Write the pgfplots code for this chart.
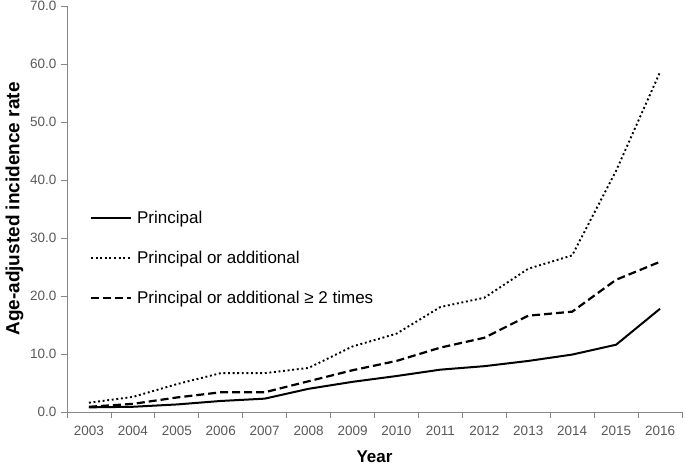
\documentclass[border=0pt]{standalone}
\usepackage{pgfplots}
\pgfplotsset{compat=1.18}
\usepackage{fontspec}
\setmainfont{Liberation Sans}
\definecolor{axgray}{HTML}{868686}
\definecolor{lblgray}{HTML}{595959}
\begin{document}
\begin{tikzpicture}
\begin{axis}[
  name=ax,
  scale only axis,
  width=615pt, height=406pt,
  xmin=-0.5, xmax=13.5,
  ymin=0, ymax=70,
  axis x line*=bottom, axis y line*=left,
  axis line style={axgray, line width=0.8pt, -},
  xtick={0,...,13},
  xticklabels={2003,2004,2005,2006,2007,2008,2009,2010,2011,2012,2013,2014,2015,2016},
  major x tick style={draw=none},
  minor xtick={-0.5,0.5,...,13.5},
  minor x tick style={axgray, line width=0.8pt},
  minor tick length=6pt,
  tick align=outside,
  ytick={0,10,...,70},
  major y tick style={axgray, line width=0.8pt},
  major tick length=6pt,
  yticklabel style={/pgf/number format/fixed, /pgf/number format/fixed zerofill, /pgf/number format/precision=1, xshift=-1pt},
  /pgf/number format/assume math mode=true,
  ticklabel style={font=\fontsize{13.5}{15}\selectfont, text=lblgray},
  xticklabel style={yshift=-5pt},
  xlabel={Year},
  ylabel={Age-adjusted incidence rate},
  xlabel style={font=\fontsize{17}{19}\selectfont\bfseries, yshift=-8pt},
  ylabel style={font=\fontsize{19}{21}\selectfont\bfseries, yshift=0pt},
  legend style={at={(0.037,0.50)}, anchor=north west, draw=none, fill=none,
    font=\fontsize{17}{19}\selectfont, row sep=22pt, inner sep=0pt,
    nodes={inner xsep=5pt}},
  legend cell align=left,
  legend image code/.code={\draw[#1] (0pt,0pt) -- (40pt,0pt);},
  clip=false,
]
\addplot[black, line width=2pt] coordinates {
(0,0.8) (1,0.9) (2,1.3) (3,1.9) (4,2.3) (5,4.0) (6,5.2) (7,6.2) (8,7.3) (9,7.9) (10,8.8) (11,9.9) (12,11.6) (13,17.8)};
\addlegendentry{Principal}
\addplot[black, line width=1.9pt, dash pattern=on 1.9pt off 2.7pt] coordinates {
(0,1.6) (1,2.6) (2,4.8) (3,6.7) (4,6.7) (5,7.6) (6,11.3) (7,13.5) (8,18.1) (9,19.7) (10,24.7) (11,27.0) (12,41.6) (13,58.6)};
\addlegendentry{Principal or additional}
\addplot[black, line width=2.2pt, dash pattern=on 8pt off 4pt] coordinates {
(0,0.9) (1,1.4) (2,2.5) (3,3.4) (4,3.4) (5,5.3) (6,7.2) (7,8.8) (8,11.1) (9,12.8) (10,16.6) (11,17.3) (12,22.8) (13,25.9)};
\addlegendentry{Principal or additional ≥ 2 times}
\end{axis}
\pgfresetboundingbox
\path (ax.south west) ++(-67pt,-54pt) coordinate (bl);
\path (ax.north east) ++(3pt,6pt) coordinate (tr);
\path[use as bounding box] (bl) rectangle (tr);
\end{tikzpicture}
\end{document}
